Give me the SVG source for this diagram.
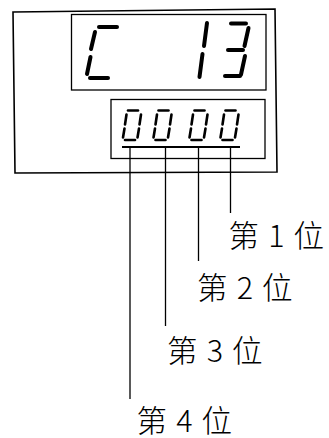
<svg xmlns="http://www.w3.org/2000/svg" xmlns:xlink="http://www.w3.org/1999/xlink" width="329" height="438" viewBox="0 0 329 438">
<style>
.frame{fill:none;stroke:#000;stroke-width:1.6}
.win{fill:none;stroke:#000;stroke-width:1.3}
.seg{stroke:#000;stroke-width:4;stroke-linecap:round}
.sseg{stroke:#000;stroke-width:2.6;stroke-linecap:round}
.lead{fill:none;stroke:#000;stroke-width:1.3}
.lbl{font-family:"Noto Sans CJK SC","Noto Sans CJK JP",sans-serif;font-size:30.5px;font-weight:300;letter-spacing:1.2px;fill:#000}
</style>
<defs>
<g id="zero">
<line class="sseg" x1="7" y1="110.5" x2="17" y2="110.5"/>
<line class="sseg" x1="5.5" y1="114.5" x2="4" y2="124.5"/>
<line class="sseg" x1="20" y1="114.5" x2="18.5" y2="124.5"/>
<line class="sseg" x1="3.5" y1="128.5" x2="2" y2="137.5"/>
<line class="sseg" x1="18" y1="128.5" x2="16.5" y2="137.5"/>
<line class="sseg" x1="4" y1="140" x2="14" y2="140"/>
</g>
</defs>
<g id="panel">
<polygon class="frame" points="13,12 275,9 277,172 15,173"/>
</g>
<g id="upper-display">
<rect class="win" x="71.5" y="14.5" width="194.5" height="75.5"/>
<line class="seg" x1="99" y1="27" x2="117" y2="27"/>
<line class="seg" x1="95" y1="32" x2="91" y2="49"/>
<line class="seg" x1="90.5" y1="57" x2="87" y2="74"/>
<line class="seg" x1="90" y1="78" x2="108" y2="78"/>
<line class="seg" x1="207" y1="23" x2="204" y2="46"/>
<line class="seg" x1="202.5" y1="54" x2="199.5" y2="77"/>
<line class="seg" x1="231" y1="23.5" x2="246" y2="23.5"/>
<line class="seg" x1="248.5" y1="28" x2="244.5" y2="46"/>
<line class="seg" x1="228" y1="50" x2="243" y2="50"/>
<line class="seg" x1="245" y1="56" x2="241" y2="74.5"/>
<line class="seg" x1="225" y1="76" x2="240" y2="76"/>
</g>
<g id="lower-display">
<rect class="win" x="111" y="99.5" width="154" height="59"/>
<use xlink:href="#zero" transform="translate(121,0)"/>
<use xlink:href="#zero" transform="translate(151.5,0)"/>
<use xlink:href="#zero" transform="translate(187.5,0)"/>
<use xlink:href="#zero" transform="translate(218.5,0)"/>
</g>
<g id="connectors">
<line class="lead" x1="122" y1="147" x2="240" y2="147" style="stroke-width:1.8"/>
<line class="lead" x1="130" y1="147" x2="130" y2="399"/>
<line class="lead" x1="165.5" y1="147" x2="165.5" y2="326"/>
<line class="lead" x1="198.5" y1="147" x2="198.5" y2="261"/>
<line class="lead" x1="230.5" y1="147" x2="230.5" y2="213"/>
</g>
<g id="label-1">
<text class="lbl" x="228.5" y="247">第 1 位</text>
</g>
<g id="label-2">
<text class="lbl" x="197" y="299">第 2 位</text>
</g>
<g id="label-3">
<text class="lbl" x="167" y="362">第 3 位</text>
</g>
<g id="label-4">
<text class="lbl" x="136.5" y="431.5">第 4 位</text>
</g>
</svg>
